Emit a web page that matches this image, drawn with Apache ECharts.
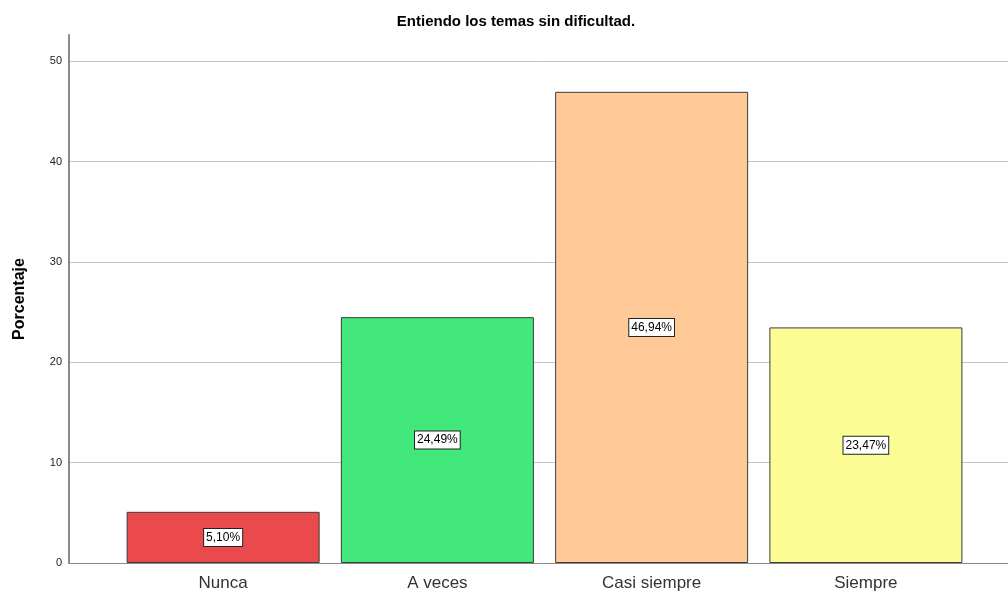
<!DOCTYPE html>
<html>
<head>
<meta charset="utf-8">
<script src="https://cdn.jsdelivr.net/npm/echarts@6/dist/echarts.min.js"></script>
<style>
  html, body { margin: 0; padding: 0; background: #fff; }
  #chart { width: 1008px; height: 592px; }
</style>
</head>
<body>
<div id="chart"></div>
<script>
// datos
const categorias = ["Nunca", "A veces", "Casi siempre", "Siempre"];
const porcentajes = [5.10, 24.49, 46.94, 23.47];
const colores = ["#EA4A4C", "#42E87C", "#FFC998", "#FCFC94"];
const yTicks = [0, 10, 20, 30, 40, 50];

const font = "Liberation Sans, Arial, sans-serif";
let myChart = echarts.init(document.getElementById("chart"));

// lineas de rejilla: una por tick, la ultima (max) invisible
let gridColors = yTicks.map(function () { return "#c4c4c4"; });
gridColors.push("rgba(0,0,0,0)");

let option = {
  animation: false,
  backgroundColor: "#fff",
  title: {
    text: "Entiendo los temas sin dificultad.",
    left: 511, top: 9, textAlign: "center",
    textStyle: { fontFamily: font, fontSize: 15, fontWeight: "bold", color: "#000" }
  },
  grid: [
    // rejilla de fondo con el eje Y
    { left: 69, right: 0, top: 35, bottom: 29 },
    // barras
    { left: 116, right: 35, top: 35, bottom: 29 }
  ],
  xAxis: [
    {
      type: "category", gridIndex: 0, data: [""],
      axisLine: { show: true, lineStyle: { color: "#8a8a8a", width: 1 } },
      axisTick: { show: false }, axisLabel: { show: false }
    },
    {
      type: "category", gridIndex: 1, data: categorias,
      axisLine: { show: false }, axisTick: { show: false },
      axisLabel: { fontFamily: font, fontSize: 17, color: "#333", margin: 12 }
    }
  ],
  yAxis: [
    {
      type: "value", gridIndex: 0, min: 0, max: 52.6, interval: 10,
      name: "Porcentaje", nameLocation: "middle", nameGap: 41,
      nameTextStyle: { fontFamily: font, fontSize: 16, fontWeight: "bold", color: "#000" },
      axisLine: { show: true, lineStyle: { color: "#8a8a8a", width: 2 } },
      axisTick: { show: false },
      axisLabel: {
        fontFamily: font, fontSize: 11, color: "#222", margin: 7, padding: [4, 0, 0, 0],
        formatter: function (v) { return yTicks.indexOf(v) >= 0 ? String(v) : ""; }
      },
      splitLine: { show: true, lineStyle: { color: gridColors, width: 1 } }
    },
    {
      type: "value", gridIndex: 1, min: 0, max: 52.6, interval: 10,
      show: false, splitLine: { show: false }
    }
  ],
  series: [{
    type: "bar",
    xAxisIndex: 1, yAxisIndex: 1,
    barWidth: 193,
    data: porcentajes.map(function (v, i) {
      return { value: v, itemStyle: { color: colores[i] } };
    }),
    itemStyle: { borderColor: "#3c3c3c", borderWidth: 1 },
    label: {
      show: true, position: "inside",
      fontFamily: font, fontSize: 12, color: "#000",
      backgroundColor: "#fff", borderColor: "#222", borderWidth: 1,
      padding: [3, 2, 2, 2],
      formatter: function (p) { return p.value.toFixed(2).replace(".", ",") + "%"; }
    }
  }]
};
myChart.setOption(option);
</script>
</body>
</html>
